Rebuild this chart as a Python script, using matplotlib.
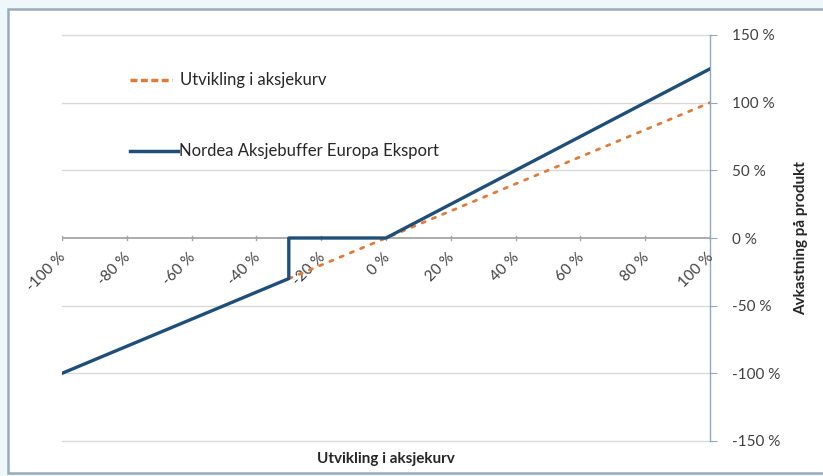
import numpy as np
import matplotlib
matplotlib.use("Agg")
import matplotlib.pyplot as plt
from matplotlib.patches import Rectangle

plt.rcParams['font.family'] = ['Lato', 'DejaVu Sans']

# payoff profile: index development vs. product return (in %)
index_x = [-30, 100]
index_y = [-30, 100]

product_x = [-100, -30, -30, 0, 100]
product_y = [-100, -30, 0, 0, 125]

x_ticks = [-100, -80, -60, -40, -20, 0, 20, 40, 60, 80, 100]
y_ticks = [-150, -100, -50, 0, 50, 100, 150]

orange = '#E07B39'
navy = '#1F4E79'
axis_col = '#8EA9C1'
grid_col = '#D9D9D9'

fig = plt.figure(figsize=(8.23, 4.76), dpi=100)
fig.patch.set_facecolor('#EEF7FA')
# white chart area with thin frame
fig.patches.append(Rectangle((8 / 823, 3 / 476), 1.2, 464 / 476, transform=fig.transFigure,
                             facecolor='white', edgecolor='#9AABBA', linewidth=1.8, zorder=-5))

ax = fig.add_axes([62 / 823, 35 / 476, 648 / 823, 406 / 476])
ax.set_facecolor('none')
ax.set_xlim(-100, 100)
ax.set_ylim(-150, 150)

# horizontal gridlines
for v in y_ticks:
    if v != 0:
        ax.axhline(v, color=grid_col, linewidth=1.0, zorder=1, clip_on=False)

for s in ['top', 'bottom', 'left']:
    ax.spines[s].set_visible(False)
ax.spines['right'].set_color(axis_col)
ax.spines['right'].set_linewidth(1.0)

# x axis drawn at y = 0
ax.axhline(0, color='#A6A6A6', linewidth=1.3, zorder=2)
for t in x_ticks:
    ax.plot([t, t], [-1.5, 1.5], color='#A6A6A6', linewidth=1.0, zorder=2)
    ax.text(t + 2, -9, f'{t} %', rotation=45, ha='right', va='top',
            fontsize=11, color='#404040', zorder=3)
ax.set_xticks([])

ax.yaxis.tick_right()
ax.set_yticks(y_ticks)
ax.set_yticklabels([f'{v} %' for v in y_ticks], fontsize=11, color='#404040')
ax.tick_params(axis='y', direction='out', length=5, color=axis_col, pad=11)
ax.yaxis.set_label_position('right')
ax.set_ylabel('Avkastning på produkt', fontsize=11, fontweight='bold', labelpad=10, color='#262626')

ax.plot(index_x, index_y, color=orange, linewidth=2.0, linestyle=(0, (1.2, 2.8)),
        dash_capstyle='round', zorder=4, label='Utvikling i aksjekurv')
ax.plot(product_x, product_y, color=navy, linewidth=2.4, zorder=5,
        label='Nordea Aksjebuffer Europa Eksport')

ax.text(0, -163, 'Utvikling i aksjekurv', ha='center', va='center',
        fontsize=11, fontweight='bold', color='#262626')

# legend entries
fig.lines.append(plt.Line2D([130 / 823, 172 / 823], [1 - 80 / 476] * 2, transform=fig.transFigure,
                            color=orange, linewidth=2.5, linestyle=(0, (2, 1))))
fig.text(180 / 823, 1 - 80 / 476, 'Utvikling i aksjekurv', ha='left', va='center',
         fontsize=12, color='#262626')
fig.lines.append(plt.Line2D([130 / 823, 178 / 823], [1 - 151 / 476] * 2, transform=fig.transFigure,
                            color=navy, linewidth=2.5))
fig.text(179 / 823, 1 - 151 / 476, 'Nordea Aksjebuffer Europa Eksport', ha='left', va='center',
         fontsize=12, color='#262626')

fig.savefig('out.png', dpi=100)
